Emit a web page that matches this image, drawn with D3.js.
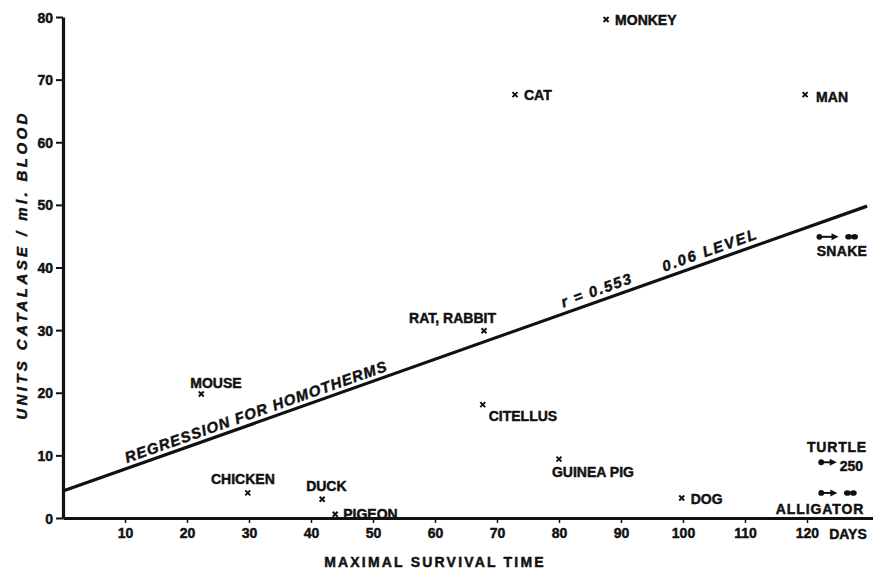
<!DOCTYPE html>
<html>
<head>
<meta charset="utf-8">
<script src="https://cdn.jsdelivr.net/npm/d3@7"></script>
<style>
  html, body { margin: 0; padding: 0; background: #fff; }
  svg { display: block; }
  text { font-family: "Liberation Sans", Arial, sans-serif; font-weight: bold; fill: #111; stroke: #111; stroke-width: 0.45px; }
</style>
</head>
<body>
<svg id="chart" width="873" height="572"></svg>
<script>
// Warm-blooded species: maximal survival time (days) vs catalase units / ml blood
const species   = ["MONKEY", "CAT", "MAN", "RAT, RABBIT", "MOUSE", "CITELLUS", "GUINEA PIG", "DOG", "CHICKEN", "DUCK", "PIGEON"];
const survival  = [87.6, 72.9, 119.7, 67.9, 22.3, 67.7, 80.0, 99.8, 29.8, 41.8, 43.9];
const catalase  = [79.6, 67.6, 67.6, 29.9, 19.8, 18.1, 9.4, 3.2, 4.0, 3.0, 0.6];

// Cold-blooded species survive past the end of the scale (arrows)
const reptiles      = ["SNAKE", "TURTLE", "ALLIGATOR"];
const reptileLevel  = [44.9, 8.9, 4.0];
const reptileFrom   = [122.0, 122.3, 122.3];
const reptileTip    = [125.1, 124.8, 124.9];
const reptileBeyond = [true, false, true];
const turtleNote    = "250";

// Regression for homotherms (end points of the fitted line)
const regressionX = [0, 129.7];
const regressionY = [4.3, 49.8];

const xTicks = [10, 20, 30, 40, 50, 60, 70, 80, 90, 100, 110, 120];
const yTicks = [0, 10, 20, 30, 40, 50, 60, 70, 80];

// Label placement relative to each marker
const labelLayout = {
  "MONKEY":      { dx: 9,   dy: 5,   anchor: "start" },
  "CAT":         { dx: 9,   dy: 5,   anchor: "start" },
  "MAN":         { dx: 11,  dy: 7,   anchor: "start" },
  "RAT, RABBIT": { dx: 12,  dy: -8,  anchor: "end" },
  "MOUSE":       { dx: -11, dy: -6,  anchor: "start" },
  "CITELLUS":    { dx: 6,   dy: 16,  anchor: "start" },
  "GUINEA PIG":  { dx: -7,  dy: 18,  anchor: "start" },
  "DOG":         { dx: 9,   dy: 6,   anchor: "start" },
  "CHICKEN":     { dx: 27,  dy: -9,  anchor: "end" },
  "DUCK":        { dx: -16, dy: -8,  anchor: "start" },
  "PIGEON":      { dx: 8,   dy: 5,   anchor: "start" }
};

const svg = d3.select("#chart");
const x = d3.scaleLinear().domain([0, 130.65]).range([63, 873]);
const y = d3.scaleLinear().domain([0, 80]).range([518, 17]);

// Axes
const yAxis = svg.append("g")
  .attr("transform", `translate(${x(0)},0)`)
  .call(d3.axisLeft(y).tickValues(yTicks).tickSize(7).tickPadding(3).tickSizeOuter(0));
yAxis.select(".domain").attr("stroke", "#111").attr("stroke-width", 3.2);
yAxis.selectAll(".tick line").attr("stroke", "#111").attr("stroke-width", 2);
yAxis.selectAll(".tick text").attr("font-size", 14).attr("dy", "0.36em").style("font-weight", "bold");

const xAxis = svg.append("g")
  .attr("transform", `translate(0,${y(0)})`)
  .call(d3.axisBottom(x).tickValues(xTicks).tickSize(5).tickPadding(5).tickSizeOuter(0));
xAxis.select(".domain").attr("stroke", "#111").attr("stroke-width", 3.2);
xAxis.selectAll(".tick line").attr("stroke", "#111").attr("stroke-width", 1.5);
xAxis.selectAll(".tick text").attr("font-size", 14).style("font-weight", "bold");

svg.append("text")
  .attr("x", 848).attr("y", y(0) + 21)
  .attr("text-anchor", "middle").attr("font-size", 14)
  .text("DAYS");

// Axis titles
svg.append("text")
  .attr("x", 435).attr("y", 567)
  .attr("text-anchor", "middle").attr("font-size", 14)
  .attr("letter-spacing", 2.2)
  .text("MAXIMAL SURVIVAL TIME");

svg.append("text")
  .attr("transform", `translate(27,265) rotate(-90)`)
  .attr("text-anchor", "middle").attr("font-size", 15)
  .attr("font-style", "italic").attr("letter-spacing", 3.4)
  .text("UNITS  CATALASE  /  ml.  BLOOD");

// Regression line
svg.append("line")
  .attr("x1", x(regressionX[0])).attr("y1", y(regressionY[0]))
  .attr("x2", x(regressionX[1])).attr("y2", y(regressionY[1]))
  .attr("stroke", "#111").attr("stroke-width", 3.2);

const angle = Math.atan2(y(regressionY[1]) - y(regressionY[0]), x(regressionX[1]) - x(regressionX[0])) * 180 / Math.PI;
const regAt = v => regressionY[0] + (regressionY[1] - regressionY[0]) * (v - regressionX[0]) / (regressionX[1] - regressionX[0]);

function lineText(xv, lift, str, size, spacing) {
  svg.append("text")
    .attr("transform", `translate(${x(xv)},${y(regAt(xv))}) rotate(${angle}) translate(0,${-lift})`)
    .attr("font-size", size).attr("font-style", "italic")
    .attr("letter-spacing", spacing)
    .text(str);
}
lineText(10.6, 5, "REGRESSION  FOR  HOMOTHERMS", 15, 1.1);
lineText(81.0, 6, "r = 0.553", 15, 1.6);
lineText(97.3, 6, "0.06  LEVEL", 15, 1.9);

// Homotherm markers
const pts = species.map((s, i) => ({ name: s, sx: survival[i], cy: catalase[i] }));
const marker = svg.append("g").selectAll("g").data(pts).join("g")
  .attr("transform", d => `translate(${x(d.sx)},${y(d.cy)})`);
marker.append("path")
  .attr("d", "M-2.5,-2.5L2.5,2.5M-2.5,2.5L2.5,-2.5")
  .attr("stroke", "#111").attr("stroke-width", 1.9);
marker.append("text")
  .attr("x", d => labelLayout[d.name].dx)
  .attr("y", d => labelLayout[d.name].dy)
  .attr("text-anchor", d => labelLayout[d.name].anchor)
  .attr("font-size", 14)
  .text(d => d.name);

// Reptile arrows
const reptileLabels = {
  "SNAKE":     { px: 842, dy: 19, spacing: 0.3 },
  "TURTLE":    { px: 837, dy: -10, spacing: 0.8 },
  "ALLIGATOR": { px: 820, dy: 21, spacing: 0.9 }
};
reptiles.forEach((name, i) => {
  const yy = y(reptileLevel[i]);
  const x0 = x(reptileFrom[i]), x1 = x(reptileTip[i]);
  const g = svg.append("g");
  g.append("circle").attr("cx", x0).attr("cy", yy).attr("r", 2.9).attr("fill", "#111");
  g.append("line").attr("x1", x0).attr("y1", yy).attr("x2", x1 - 4).attr("y2", yy)
    .attr("stroke", "#111").attr("stroke-width", 2);
  g.append("path")
    .attr("d", `M${x1},${yy}L${x1 - 7},${yy - 3.5}L${x1 - 7},${yy + 3.5}Z`)
    .attr("fill", "#111");
  if (reptileBeyond[i]) {
    const xe = x1 + 7;
    g.append("ellipse").attr("cx", xe + 3).attr("cy", yy).attr("rx", 3.4).attr("ry", 2.8).attr("fill", "#111");
    g.append("ellipse").attr("cx", xe + 9).attr("cy", yy).attr("rx", 3.4).attr("ry", 2.8).attr("fill", "#111");
  } else {
    g.append("text").attr("x", x1 + 3).attr("y", yy + 9).attr("font-size", 14).text(turtleNote);
  }
  g.append("text")
    .attr("x", reptileLabels[name].px).attr("y", yy + reptileLabels[name].dy)
    .attr("text-anchor", "middle").attr("font-size", 14)
    .attr("letter-spacing", reptileLabels[name].spacing)
    .text(name);
});
</script>
</body>
</html>
